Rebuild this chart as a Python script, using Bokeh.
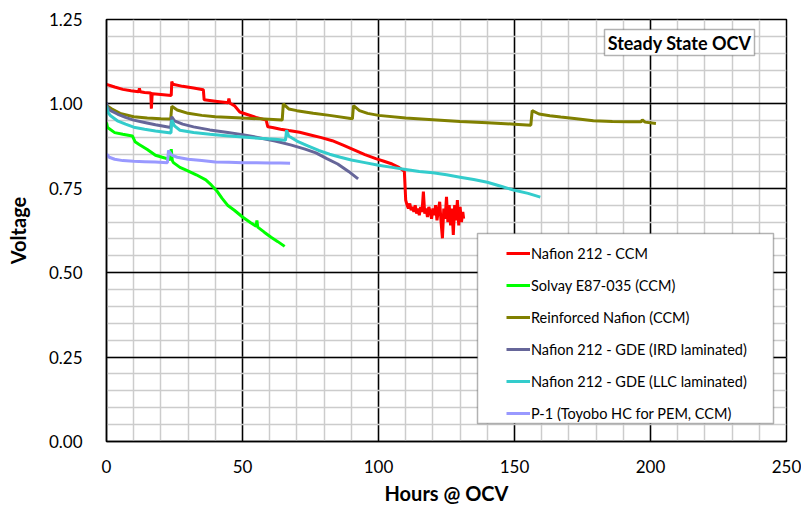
from bokeh.plotting import figure
from bokeh.models import (Legend, LegendItem, SingleIntervalTicker, NumeralTickFormatter,
                          Range1d, BoxAnnotation, Label)
from bokeh.embed import file_html
from bokeh.resources import INLINE

# ---- measured open-circuit voltage traces (hours, volts) ----
nafion_ccm_h = [0, 3, 6, 9, 11.8, 12.1, 12.4, 14, 16.3, 16.5, 16.8, 17.0, 20, 23.8, 24.0, 24.4,
                28, 32, 35.6, 35.9, 40, 44, 44.7, 45.0, 45.4, 47, 49, 52, 55, 58.7, 59.3, 61,
                64, 67, 71, 75, 79, 83, 87, 91, 95, 99, 102, 105, 107.5, 109.5,
                110.0, 110.5, 111.0, 111.5, 112.0, 112.5, 113.0, 113.5, 114.0, 114.5, 115.0,
                115.5, 116.0, 116.5, 117.0, 117.5, 118.0, 118.5, 119.0, 119.5, 120.0, 120.5,
                121.0, 121.5, 122.0, 122.5, 123.0, 123.5, 124.0, 124.5, 125.0, 125.5, 126.0,
                126.5, 127.0, 127.5, 128.0, 128.5, 129.0, 129.5, 130.0, 130.5, 131.0, 131.3]
nafion_ccm_v = [1.058, 1.050, 1.043, 1.039, 1.036, 1.046, 1.036, 1.034, 1.032, 0.986, 1.030, 1.030,
                1.028, 1.025, 1.066, 1.058, 1.052, 1.047, 1.042, 1.012, 1.008, 1.004, 1.003, 1.016,
                1.002, 0.995, 0.976, 0.968, 0.960, 0.952, 0.932, 0.930, 0.925, 0.921, 0.916, 0.908,
                0.900, 0.891, 0.878, 0.864, 0.850, 0.838, 0.830, 0.822, 0.812, 0.800,
                0.715, 0.700, 0.690, 0.705, 0.685, 0.695, 0.680, 0.700, 0.675, 0.690, 0.670,
                0.695, 0.680, 0.740, 0.675, 0.690, 0.665, 0.695, 0.680, 0.660, 0.690, 0.670,
                0.700, 0.655, 0.685, 0.710, 0.650, 0.602, 0.690, 0.660, 0.725, 0.650, 0.700,
                0.640, 0.690, 0.612, 0.700, 0.655, 0.715, 0.640, 0.695, 0.650, 0.680, 0.660]

solvay_h = [0, 0.4, 3, 6, 9.5, 10.5, 12, 15, 18, 20.5, 23.5, 23.8, 24.2, 24.6, 27, 29.5, 33,
            36.5, 38.5, 40.5, 42.5, 44.5, 47, 50, 53, 55, 55.3, 55.6, 58, 60.5, 63, 65.5]
solvay_v = [0.945, 0.930, 0.915, 0.910, 0.905, 0.888, 0.880, 0.865, 0.848, 0.842, 0.835, 0.866,
            0.832, 0.826, 0.812, 0.803, 0.790, 0.775, 0.760, 0.743, 0.720, 0.700, 0.685, 0.665,
            0.648, 0.638, 0.655, 0.635, 0.620, 0.605, 0.592, 0.578]

reinforced_h = [0, 2, 5, 10, 15, 20, 23.6, 24.0, 26, 30, 35, 40, 50, 58, 64.6, 65.0, 67, 70, 76,
                82, 90.4, 90.8, 93, 96, 100, 110, 120, 130, 140, 150, 156.0, 156.5, 159, 163,
                167, 172, 179, 186, 192, 196.5, 197, 198, 202]
reinforced_v = [0.995, 0.985, 0.972, 0.962, 0.958, 0.956, 0.955, 0.993, 0.982, 0.972, 0.966,
                0.962, 0.958, 0.955, 0.952, 1.000, 0.985, 0.980, 0.972, 0.966, 0.956, 0.995,
                0.980, 0.972, 0.966, 0.958, 0.953, 0.948, 0.944, 0.940, 0.937, 0.980, 0.970,
                0.965, 0.961, 0.957, 0.950, 0.948, 0.947, 0.947, 0.953, 0.946, 0.942]

gde_ird_h = [0, 0.3, 1.5, 4, 7, 10, 14, 18, 23.6, 24.0, 25, 28, 32, 38, 44, 50, 56, 62, 68, 73,
             77, 81, 85, 89, 92.5]
gde_ird_v = [1.005, 0.990, 0.980, 0.970, 0.960, 0.952, 0.945, 0.938, 0.930, 0.962, 0.950,
             0.940, 0.932, 0.923, 0.916, 0.909, 0.900, 0.890, 0.878, 0.866, 0.855, 0.838,
             0.822, 0.800, 0.778]

gde_llc_h = [0, 0.5, 1.5, 4, 7, 10, 14, 18, 23.7, 24.0, 25, 27, 32, 38, 44, 50, 56, 62, 65.8,
             66.2, 67, 70, 74, 78, 82, 86, 90, 95, 100, 105, 110, 115, 120, 125, 130, 135, 140,
             145, 150, 155, 159.5]
gde_llc_v = [0.995, 0.975, 0.965, 0.950, 0.940, 0.931, 0.925, 0.920, 0.914, 0.952, 0.935,
             0.922, 0.915, 0.910, 0.906, 0.902, 0.898, 0.895, 0.892, 0.922, 0.905, 0.890,
             0.876, 0.862, 0.851, 0.842, 0.834, 0.826, 0.818, 0.812, 0.806, 0.800, 0.796,
             0.790, 0.783, 0.776, 0.768, 0.756, 0.744, 0.735, 0.724]

p1_h = [0, 1, 3, 6, 10, 14, 18, 22.4, 22.8, 24, 26, 30, 35, 40, 45, 50, 55, 60, 64, 67.5]
p1_v = [0.852, 0.842, 0.836, 0.832, 0.830, 0.829, 0.828, 0.826, 0.862, 0.848, 0.842, 0.836,
        0.832, 0.828, 0.827, 0.826, 0.826, 0.825, 0.825, 0.824]

series_names = ["Nafion 212 - CCM", "Solvay E87-035 (CCM)", "Reinforced Nafion (CCM)",
                "Nafion 212 - GDE (IRD laminated)", "Nafion 212 - GDE (LLC laminated)",
                "P-1 (Toyobo HC for PEM, CCM)"]
series_colors = ["#FF0000", "#00FF00", "#808000", "#666699", "#33CCCC", "#9999FF"]
series_data = [(nafion_ccm_h, nafion_ccm_v), (solvay_h, solvay_v), (reinforced_h, reinforced_v),
               (gde_ird_h, gde_ird_v), (gde_llc_h, gde_llc_v), (p1_h, p1_v)]

FONT = "Lato"

p = figure(width=801, height=509, output_backend="svg", toolbar_location=None,
           x_range=Range1d(0, 250), y_range=Range1d(0, 1.25),
           min_border_left=106, min_border_right=15, min_border_top=19, min_border_bottom=68,
           background_fill_color="white", border_fill_color="white")

p.outline_line_color = "black"
p.outline_line_width = 1.5

p.xaxis.ticker = SingleIntervalTicker(interval=50, num_minor_ticks=5)
p.yaxis.ticker = SingleIntervalTicker(interval=0.25, num_minor_ticks=5)
p.yaxis.formatter = NumeralTickFormatter(format="0.00")

for g in (p.xgrid, p.ygrid):
    g.grid_line_color = "black"
    g.grid_line_width = 1.5
    g.minor_grid_line_color = "#CCCCCC"
    g.minor_grid_line_width = 1.5

for ax in (p.xaxis, p.yaxis):
    ax.axis_line_color = "black"
    ax.axis_line_width = 1.5
    ax.major_tick_line_color = None
    ax.minor_tick_line_color = None
    ax.major_label_text_font = FONT
    ax.major_label_text_font_size = "17px"
    ax.major_label_text_color = "black"
    ax.axis_label_text_font = FONT
    ax.axis_label_text_font_size = "20px"
    ax.axis_label_text_font_style = "bold"
    ax.axis_label_text_color = "black"

p.xaxis.axis_label = "Hours @ OCV"
p.yaxis.axis_label = "Voltage"
p.xaxis.major_label_standoff = 12
p.xaxis.axis_label_standoff = 5
p.yaxis.major_label_standoff = 18
p.yaxis.axis_label_standoff = 16

items = []
for name, color, (hx, vy) in zip(series_names, series_colors, series_data):
    r = p.line(hx, vy, line_color=color, line_width=3)
    items.append(LegendItem(label=name, renderers=[r]))

# framed legend panel
legend_box = BoxAnnotation(left=371, right=667, bottom=18, top=208,
                           left_units="screen", right_units="screen",
                           bottom_units="screen", top_units="screen",
                           fill_color="white", fill_alpha=1.0,
                           line_color="black", line_width=1.5)
p.add_layout(legend_box)

legend = Legend(items=items, location=(400, 18), border_line_color=None,
                background_fill_alpha=0, padding=5, spacing=12, margin=0,
                glyph_width=24, glyph_height=20, label_height=20, label_standoff=1,
                label_text_font=FONT, label_text_font_size="14.5px", label_text_color="black")
p.add_layout(legend)

# boxed chart caption
title_box = BoxAnnotation(left=498, right=648, bottom=386, top=412,
                          left_units="screen", right_units="screen",
                          bottom_units="screen", top_units="screen",
                          fill_color="white", fill_alpha=1.0,
                          line_color="black", line_width=1.5)
p.add_layout(title_box)
p.add_layout(Label(x=573, y=399, x_units="screen", y_units="screen", text="Steady State OCV",
                   text_align="center", text_baseline="middle", text_font=FONT,
                   text_font_size="18px", text_font_style="bold", text_color="black"))

open("out.html", "w").write(file_html(p, INLINE))
